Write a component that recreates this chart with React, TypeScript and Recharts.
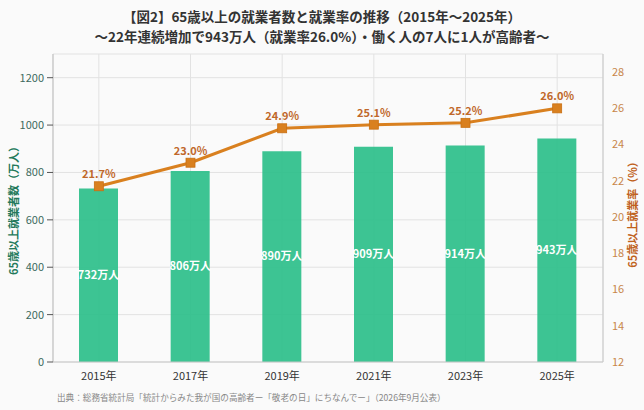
import React from "react";
import {
  ComposedChart,
  Bar,
  Line,
  XAxis,
  YAxis,
  CartesianGrid,
  LabelList,
} from "recharts";

const years = ["2015年", "2017年", "2019年", "2021年", "2023年", "2025年"];
const workers = [732, 806, 890, 909, 914, 943];
const rates = [21.7, 23.0, 24.9, 25.1, 25.2, 26.0];
const leftTicks = [0, 200, 400, 600, 800, 1000, 1200];
const rightTicks = [12, 14, 16, 18, 20, 22, 24, 26, 28];

const titleLine1 = "【図2】65歳以上の就業者数と就業率の推移（2015年～2025年）";
const titleLine2 = "～22年連続増加で943万人（就業率26.0%）・働く人の7人に1人が高齢者～";
const leftLabel = "65歳以上就業者数（万人）";
const rightLabel = "65歳以上就業率（%）";
const source =
  "出典：総務省統計局「統計からみた我が国の高齢者ー「敬老の日」にちなんでー」（2026年9月公表）";

const data = years.map((y, i) => ({ year: y, workers: workers[i], rate: rates[i] }));

const FONT = '"Noto Sans CJK JP", "Noto Sans", sans-serif';
const GREEN = "#2ebf8b";
const ORANGE = "#d9801f";
const ORANGE_TEXT = "#c0682a";

const SquareDot = (props: any) => {
  const { cx, cy } = props;
  if (cx == null || cy == null) return null;
  return <rect x={cx - 4.5} y={cy - 4.5} width={9} height={9} fill={ORANGE} stroke="#c96f12" strokeWidth={0.8} />;
};

export default function App() {
  return (
    <div
      style={{
        position: "absolute",
        left: 0,
        top: 0,
        width: 644,
        height: 410,
        background: "#fafafa",
        fontFamily: FONT,
        overflow: "hidden",
      }}
    >
      <div
        style={{
          position: "absolute",
          left: 0,
          top: 7,
          width: 644,
          textAlign: "center",
          fontSize: 13.5,
          fontWeight: 700,
          color: "#333",
          lineHeight: "19.5px",
        }}
      >
        <div>{titleLine1}</div>
        <div>{titleLine2}</div>
      </div>
      <ComposedChart
        width={644}
        height={410}
        data={data}
        margin={{ top: 54, right: 0, left: 0, bottom: 0 }}
        style={{ position: "absolute", left: 0, top: 0 }}
      >
        <CartesianGrid yAxisId="left" stroke="#e2e2e2" strokeWidth={1} />
        <XAxis
          dataKey="year"
          height={48}
          tickLine={false}
          tickSize={6}
          tickMargin={4}
          axisLine={{ stroke: "#c8c8c8" }}
          tick={{ fill: "#333", fontSize: 11, fontFamily: FONT }}
        />
        <YAxis
          yAxisId="left"
          orientation="left"
          width={53}
          domain={[0, 1300]}
          ticks={leftTicks}
          tickSize={6}
          tickMargin={3}
          axisLine={{ stroke: "#bdbdbd" }}
          tickLine={{ stroke: "#555" }}
          tick={{ fill: "#3d6a5e", fontSize: 11, fontFamily: FONT }}
        />
        <YAxis
          yAxisId="right"
          orientation="right"
          width={41}
          domain={[12, 29]}
          ticks={rightTicks}
          tickSize={6}
          tickMargin={3}
          tickLine={false}
          axisLine={{ stroke: "#c8c8c8" }}
          tick={{ fill: "#c8864a", fontSize: 11, fontFamily: FONT }}
        />
        <Bar
          yAxisId="left"
          dataKey="workers"
          fill={GREEN}
          fillOpacity={0.93}
          barSize={39}
          isAnimationActive={false}
        >
          <LabelList
            dataKey="workers"
            position="center"
            formatter={(v: any) => `${v}万人`}
            style={{ fill: "#fff", fontSize: 11, fontWeight: 700, fontFamily: FONT }}
          />
        </Bar>
        <Line
          yAxisId="right"
          dataKey="rate"
          stroke={ORANGE}
          strokeWidth={3}
          dot={<SquareDot />}
          activeDot={false}
          isAnimationActive={false}
        >
          <LabelList
            dataKey="rate"
            position="top"
            offset={8}
            formatter={(v: any) => `${Number(v).toFixed(1)}%`}
            style={{ fill: ORANGE_TEXT, fontSize: 11, fontWeight: 700, fontFamily: FONT }}
          />
        </Line>
      </ComposedChart>
      <div
        style={{
          position: "absolute",
          left: 13,
          top: 208,
          transform: "translate(-50%, -50%) rotate(-90deg)",
          whiteSpace: "nowrap",
          fontSize: 11,
          fontWeight: 700,
          color: "#23795b",
        }}
      >
        {leftLabel}
      </div>
      <div
        style={{
          position: "absolute",
          left: 632,
          top: 212,
          transform: "translate(-50%, -50%) rotate(-90deg)",
          whiteSpace: "nowrap",
          fontSize: 11,
          fontWeight: 700,
          color: "#c0621c",
        }}
      >
        {rightLabel}
      </div>
      <div
        style={{
          position: "absolute",
          left: 57,
          top: 391,
          whiteSpace: "nowrap",
          fontSize: 8.6,
          color: "#888",
          lineHeight: "13px",
        }}
      >
        {source}
      </div>
    </div>
  );
}
